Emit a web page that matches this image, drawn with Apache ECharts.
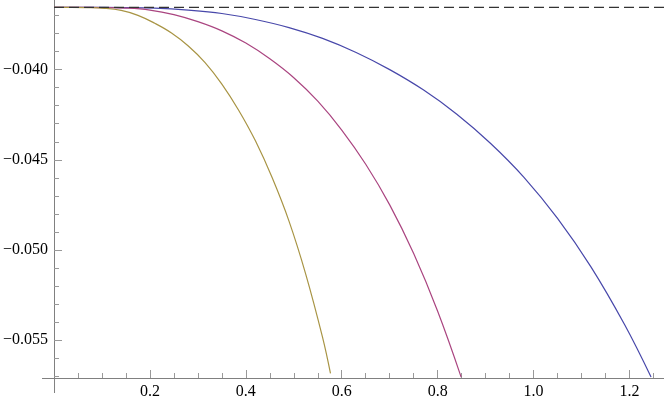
<!DOCTYPE html>
<html>
<head>
<meta charset="utf-8">
<style>
  html, body { margin: 0; padding: 0; background: #fff; }
  #chart { width: 664px; height: 400px; }
</style>
<script src="https://cdn.jsdelivr.net/npm/echarts@6/dist/echarts.min.js"></script>
</head>
<body>
<div id="chart"></div>
<script>
// axis ranges
const xMin = 0
const xMax = 1.272
const yMin = -0.05710
const yMax = -0.03614

// tick positions
const xMajorTicks = [0.2, 0.4, 0.6, 0.8, 1.0, 1.2]
const xMinorTicks = [0.05, 0.1, 0.15, 0.25, 0.3, 0.35, 0.45, 0.5, 0.55, 0.65, 0.7, 0.75,
  0.85, 0.9, 0.95, 1.05, 1.1, 1.15, 1.25]
const yMajorTicks = [-0.055, -0.050, -0.045, -0.040]
const yMinorTicks = [-0.057, -0.056, -0.054, -0.053, -0.052, -0.051, -0.049, -0.048,
  -0.047, -0.046, -0.044, -0.043, -0.042, -0.041, -0.039, -0.038, -0.037]

// dashed reference level
const refLevel = -0.03655

// curves, [x, y]
const oliveCurve = [
  [0, -0.03655], [0.035, -0.03655], [0.07, -0.03656], [0.105, -0.03660],
  [0.14, -0.03672], [0.175, -0.03699], [0.21, -0.03743], [0.245, -0.03797],
  [0.28, -0.03869], [0.315, -0.03961], [0.35, -0.04080], [0.385, -0.04225],
  [0.42, -0.04395], [0.455, -0.04600], [0.49, -0.04840], [0.525, -0.05135],
  [0.56, -0.05485], [0.5765, -0.05685]
]
const magentaCurve = [
  [0, -0.03655], [0.05, -0.03655], [0.1, -0.03656], [0.15, -0.03659],
  [0.2, -0.03670], [0.25, -0.03695], [0.3, -0.03734], [0.35, -0.03785],
  [0.4, -0.03853], [0.45, -0.03940], [0.5, -0.04045], [0.55, -0.04175],
  [0.6, -0.04335], [0.65, -0.04525], [0.7, -0.04750], [0.75, -0.05020],
  [0.8, -0.05340], [0.849, -0.05705]
]
const blueCurve = [
  [0, -0.03655], [0.07, -0.03655], [0.14, -0.03656], [0.21, -0.03659],
  [0.28, -0.03670], [0.35, -0.03689], [0.42, -0.03722], [0.49, -0.03767],
  [0.56, -0.03827], [0.63, -0.03905], [0.70, -0.04000], [0.77, -0.04112],
  [0.84, -0.04247], [0.91, -0.04408], [0.98, -0.04597], [1.05, -0.04825],
  [1.12, -0.05095], [1.19, -0.05415], [1.245, -0.05705]
]

const labelFont = { fontFamily: 'Liberation Serif', fontSize: 16, color: '#000' }
const axisGray = '#808080'
const tickGray = '#999'

const chart = echarts.init(document.getElementById('chart'))

const curve = (data, color) => ({
  type: 'line',
  data: data,
  showSymbol: false,
  smooth: 0.4,
  lineStyle: { color: color, width: 1.2 },
  silent: true,
  z: 3
})

chart.setOption({
  animation: false,
  grid: { left: 53, right: 0, top: 0, bottom: 22 },
  xAxis: [
    {
      type: 'value', min: xMin, max: xMax,
      axisLine: { show: true, lineStyle: { color: axisGray, width: 1 } },
      axisTick: { show: true, inside: true, length: 8, customValues: xMajorTicks, lineStyle: { color: tickGray } },
      axisLabel: { ...labelFont, margin: 6, customValues: xMajorTicks, formatter: v => v.toFixed(1) },
      splitLine: { show: false }
    },
    {
      type: 'value', min: xMin, max: xMax, position: 'bottom', offset: 0,
      axisLine: { show: false },
      axisTick: { show: true, inside: true, length: 5, customValues: xMinorTicks, lineStyle: { color: tickGray } },
      axisLabel: { show: false },
      splitLine: { show: false }
    }
  ],
  yAxis: [
    {
      type: 'value', min: yMin, max: yMax,
      axisLine: { show: true, lineStyle: { color: axisGray, width: 1 } },
      axisTick: { show: true, inside: true, length: 8, customValues: yMajorTicks, lineStyle: { color: tickGray } },
      axisLabel: { ...labelFont, margin: 6, customValues: yMajorTicks, formatter: v => '\u2212' + Math.abs(v).toFixed(3) },
      splitLine: { show: false }
    },
    {
      type: 'value', min: yMin, max: yMax, position: 'left', offset: 0,
      axisLine: { show: false },
      axisTick: { show: true, inside: true, length: 5, customValues: yMinorTicks, lineStyle: { color: tickGray } },
      axisLabel: { show: false },
      splitLine: { show: false }
    }
  ],
  series: [
    {
      type: 'line',
      data: [[xMin, refLevel], [xMax, refLevel]],
      showSymbol: false,
      lineStyle: { color: '#333', width: 1.3, type: [10, 5] },
      silent: true,
      z: 4
    },
    curve(blueCurve, '#4848aa'),
    curve(magentaCurve, '#aa4580'),
    curve(oliveCurve, '#a89444')
  ]
})

// Mathematica-style axis overshoot past the origin
const origin = chart.convertToPixel({ xAxisIndex: 0, yAxisIndex: 0 }, [xMin, yMin])
chart.setOption({
  graphic: [
    { type: 'line', shape: { x1: origin[0] - 12, y1: origin[1] + 0.5, x2: origin[0], y2: origin[1] + 0.5 }, style: { stroke: axisGray, lineWidth: 1 } },
    { type: 'line', shape: { x1: origin[0] + 0.5, y1: origin[1], x2: origin[0] + 0.5, y2: origin[1] + 15 }, style: { stroke: axisGray, lineWidth: 1 } }
  ]
})
</script>
</body>
</html>
